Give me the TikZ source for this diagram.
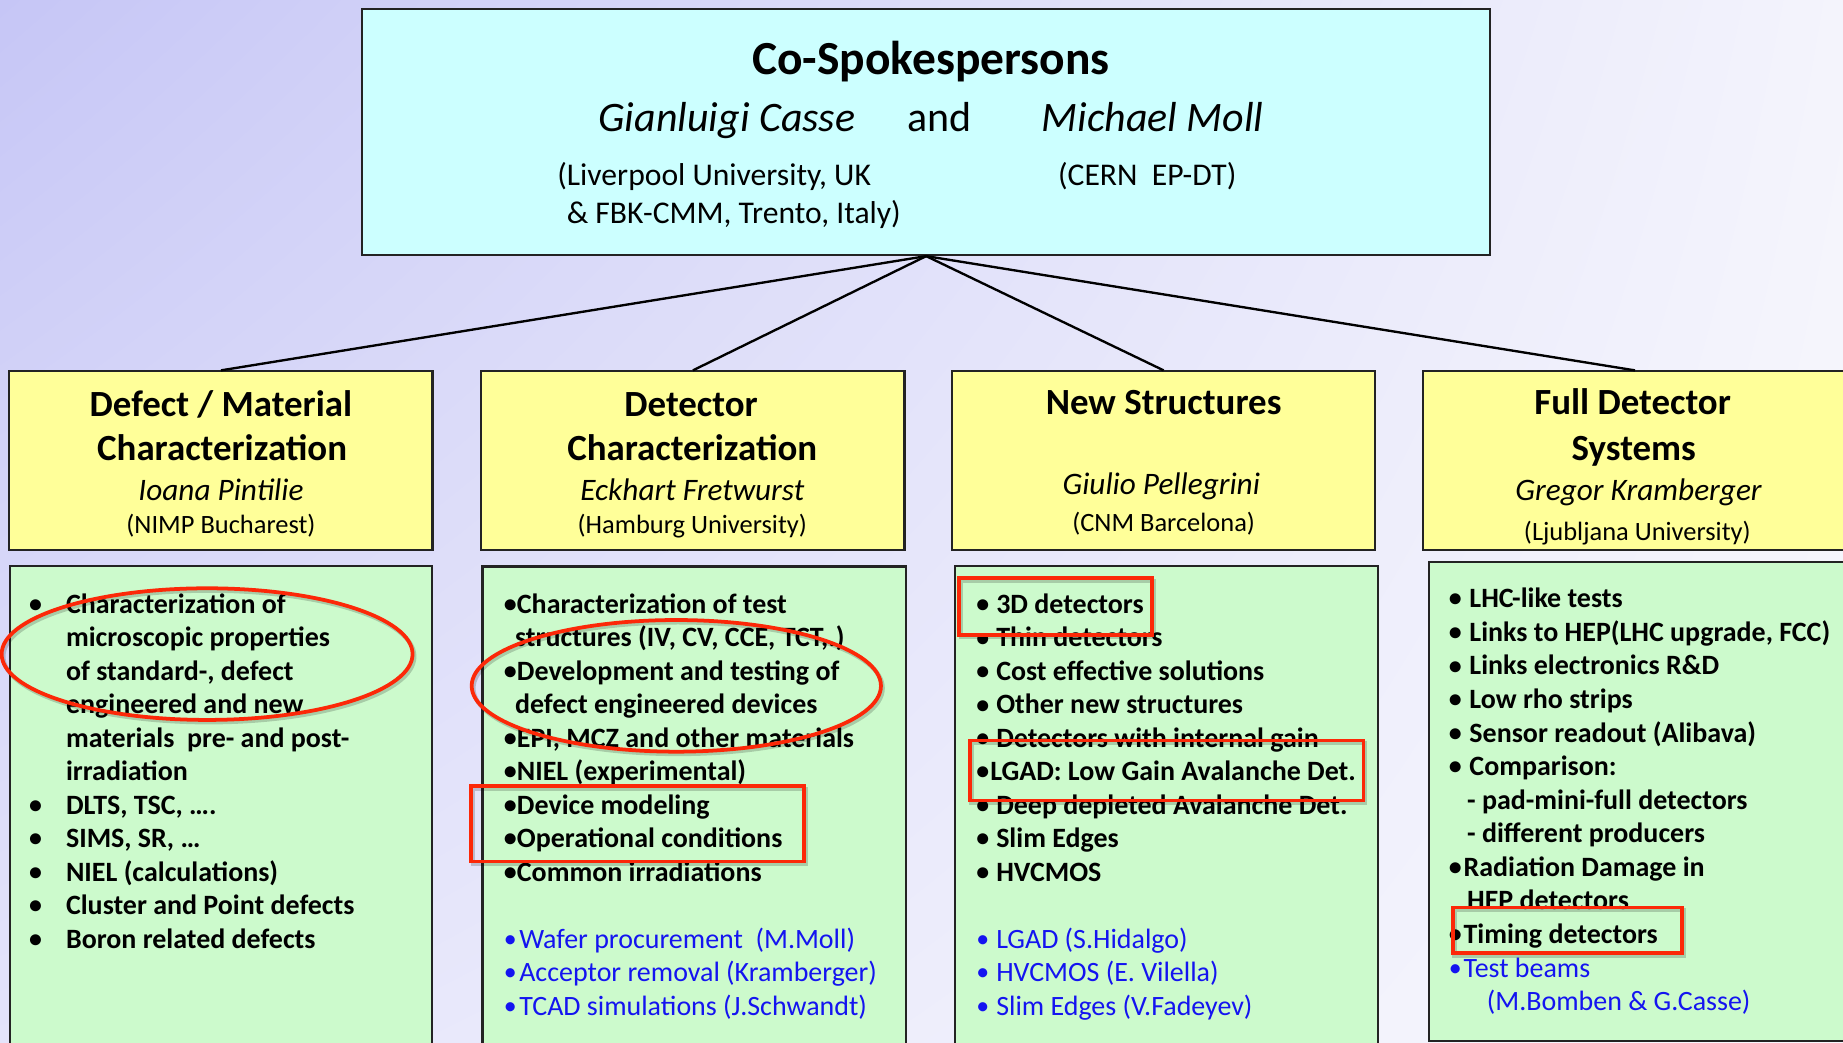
\documentclass[tikz,border=0pt]{standalone}
\usepackage{fontspec}
\usetikzlibrary{shadings}
\setmainfont{Carlito}
\definecolor{cyanfill}{RGB}{204,255,255}
\definecolor{yelfill}{RGB}{255,255,153}
\definecolor{grnfill}{RGB}{204,250,204}
\definecolor{myblue}{RGB}{20,20,240}
\definecolor{annred}{RGB}{252,40,8}
\definecolor{boxline}{RGB}{35,35,35}
\definecolor{bgTL}{RGB}{198,198,246}
\definecolor{bgTR}{RGB}{244,244,252}
\definecolor{bgBL}{RGB}{228,228,250}
\definecolor{bgBR}{RGB}{248,248,253}
\newcommand\BodyF{\fontsize{23.8}{28.5}\selectfont\bfseries}
\newcommand\BlueF{\fontsize{23.8}{28.5}\selectfont}
\newcommand\TitleF{\fontsize{40.4}{48}\selectfont\bfseries}
\newcommand\NameF{\fontsize{35.7}{42}\selectfont\itshape}
\newcommand\AffF{\fontsize{26.9}{32}\selectfont}
\newcommand\YTitleF{\fontsize{31.4}{36}\selectfont\bfseries}
\newcommand\YNameF{\fontsize{26.6}{32}\selectfont\itshape}
\newcommand\YAffF{\fontsize{22.5}{27}\selectfont}
\newcommand\Bu{\raisebox{0.6pt}{\fontsize{22}{24}\selectfont •}}
\begin{document}
\begin{tikzpicture}[x=1pt,y=-1pt,
  box/.style={draw=boxline, line width=1.8pt, inner sep=0pt, rectangle},
  conn/.style={draw=black, line width=2pt},
  tl/.style={anchor=base west, inner sep=0pt, font=\BodyF},
  bl/.style={anchor=base west, inner sep=0pt, font=\BlueF, text=myblue},
  ct/.style={anchor=base, inner sep=0pt},
  ann/.style={draw=annred, line width=3.2pt},
  annsh/.style={draw=black, opacity=0.18, line width=3.6pt, xshift=1.5pt, yshift=-2pt}]
\useasboundingbox (0,0) rectangle (1568,887);
\clip (0,0) rectangle (1568,887);
\shade[upper left=bgTL, upper right=bgTR, lower left=bgBL, lower right=bgBR] (0,0) rectangle (1568,887);

% top box
\node[box, fill=cyanfill, minimum width=960pt, minimum height=209pt] (top) at (788,112.5) {};
\node[ct, font=\TitleF] (ttl) at (792,63) {Co-Spokespersons};
\node[anchor=base west, inner sep=0pt, font=\NameF] (n1) at (509,112) {Gianluigi Casse};
\node[anchor=base west, inner sep=0pt, font=\NameF\upshape] (nand) at (772,112) {and};
\node[anchor=base west, inner sep=0pt, font=\NameF] (n2) at (886,112) {Michael Moll};
\node[anchor=base west, inner sep=0pt, font=\AffF] (a1) at (474,157.4) {(Liverpool University, UK};
\node[anchor=base west, inner sep=0pt, font=\AffF] (a2) at (900,157.4) {(CERN\ \ EP-DT)};
\node[anchor=base west, inner sep=0pt, font=\AffF] (a3) at (482,190) {\& FBK-CMM, Trento, Italy)};

% yellow boxes
\node[box, fill=yelfill, minimum width=360pt, minimum height=152pt] (y1) at (188,392) {};
\node[box, fill=yelfill, minimum width=360pt, minimum height=152pt] (y2) at (589.5,392) {};
\node[box, fill=yelfill, minimum width=360pt, minimum height=152pt] (y3) at (990,392) {};
\node[box, fill=yelfill, minimum width=360pt, minimum height=152pt] (y4) at (1391,392) {};

\draw[conn] (top.south) -- (y1.north);
\draw[conn] (top.south) -- (y2.north);
\draw[conn] (top.south) -- (y3.north);
\draw[conn] (top.south) -- (y4.north);

\node[ct, font=\YTitleF] (y1a) at (188,354.5) {Defect / Material};
\node[ct, font=\YTitleF] (y1b) at (189,392) {Characterization};
\node[ct, font=\YNameF] (y1c) at (188,426) {Ioana Pintilie};
\node[ct, font=\YAffF] (y1d) at (188,454) {(NIMP Bucharest)};

\node[ct, font=\YTitleF] (y2a) at (588,354.5) {Detector};
\node[ct, font=\YTitleF] (y2b) at (589,392) {Characterization};
\node[ct, font=\YNameF] (y2c) at (589,426) {Eckhart Fretwurst};
\node[ct, font=\YAffF] (y2d) at (589,454) {(Hamburg University)};

\node[ct, font=\YTitleF] (y3a) at (990,353) {New Structures};
\node[ct, font=\YNameF] (y3c) at (988,421) {Giulio Pellegrini};
\node[ct, font=\YAffF] (y3d) at (990,452) {(CNM Barcelona)};

\node[ct, font=\YTitleF] (y4a) at (1389,353) {Full Detector};
\node[ct, font=\YTitleF] (y4b) at (1390,391.4) {Systems};
\node[ct, font=\YNameF] (y4c) at (1394,425.4) {Gregor Kramberger};
\node[ct, font=\YAffF] (y4d) at (1393,460) {(Ljubljana University)};

% green boxes
\node[box, fill=grnfill, minimum width=359pt, minimum height=420pt] (g1) at (188,691.5) {};
\node[box, fill=grnfill, minimum width=360pt, minimum height=420pt] (g2) at (590.5,692) {};
\node[box, fill=grnfill, minimum width=360pt, minimum height=420pt] (g3) at (992.5,691.5) {};
\node[box, fill=grnfill, minimum width=366pt, minimum height=407.7pt] (g4) at (1399,681.85) {};

% box 1 text
\foreach \xx/\ii/\lbl [evaluate=\ii as \yy using 521.8+28.48*(\ii-1), count=\k] in {
  24.5/1/{\Bu}, 56/1/{Characterization of}, 56/2/{microscopic properties}, 56/3/{of standard-, defect},
  56/4/{engineered and new}, 56/5/{materials\ \ pre- and post-}, 56/6/{irradiation},
  24.5/7/{\Bu}, 56/7/{DLTS, TSC, ….}, 24.5/8/{\Bu}, 56/8/{SIMS, SR, …},
  24.5/9/{\Bu}, 56/9/{NIEL (calculations)}, 24.5/10/{\Bu}, 56/10/{Cluster and Point defects},
  24.5/11/{\Bu}, 56/11/{Boron related defects}}
  \node[tl] (ta\k) at (\xx,\yy) {\lbl};

% box 2 text
\foreach \xx/\ii/\lbl [evaluate=\ii as \yy using 521.8+28.48*(\ii-1), count=\k] in {
  428.5/1/{\Bu}, 439.6/1/{Characterization of test}, 438/2/{structures (IV, CV, CCE, TCT,.)},
  428.5/3/{\Bu}, 439.6/3/{Development and testing of}, 438/4/{defect engineered devices},
  428.5/5/{\Bu}, 439.6/5/{EPI, MCZ and other materials}, 428.5/6/{\Bu}, 439.6/6/{NIEL (experimental)},
  428.5/7/{\Bu}, 439.6/7/{Device modeling}, 428.5/8/{\Bu}, 439.6/8/{Operational conditions},
  428.5/9/{\Bu}, 439.6/9/{Common irradiations}}
  \node[tl] (tb\k) at (\xx,\yy) {\lbl};
\foreach \xx/\ii/\lbl [evaluate=\ii as \yy using 521.8+28.48*(\ii-1), count=\k] in {
  428.5/11/{\Bu}, 441.6/11/{Wafer procurement\ \ (M.Moll)},
  428.5/12/{\Bu}, 441.6/12/{Acceptor removal (Kramberger)},
  428.5/13/{\Bu}, 441.6/13/{TCAD simulations (J.Schwandt)}}
  \node[bl] (ub\k) at (\xx,\yy) {\lbl};

% box 3 text
\foreach \xx/\ii/\lbl [evaluate=\ii as \yy using 521.8+28.48*(\ii-1), count=\k] in {
  830.5/1/{\Bu}, 847.4/1/{3D detectors}, 830.5/2/{\Bu}, 847.4/2/{Thin detectors},
  830.5/3/{\Bu}, 847.4/3/{Cost effective solutions}, 830.5/4/{\Bu}, 847.4/4/{Other new structures},
  830.5/5/{\Bu}, 847.4/5/{Detectors with internal gain}, 830.5/6/{\Bu}, 842.3/6/{LGAD: Low Gain Avalanche Det.},
  830.5/7/{\Bu}, 847.4/7/{Deep depleted Avalanche Det.}, 830.5/8/{\Bu}, 847.4/8/{Slim Edges},
  830.5/9/{\Bu}, 847.4/9/{HVCMOS}}
  \node[tl] (tc\k) at (\xx,\yy) {\lbl};
\foreach \xx/\ii/\lbl [evaluate=\ii as \yy using 521.8+28.48*(\ii-1), count=\k] in {
  830.5/11/{\Bu}, 847.4/11/{LGAD (S.Hidalgo)},
  830.5/12/{\Bu}, 847.4/12/{HVCMOS (E. Vilella)},
  830.5/13/{\Bu}, 847.4/13/{Slim Edges (V.Fadeyev)}}
  \node[bl] (uc\k) at (\xx,\yy) {\lbl};

% box 4 text
\foreach \xx/\ii/\lbl [evaluate=\ii as \yy using 517+28.57*(\ii-1), count=\k] in {
  1232.5/1/{\Bu}, 1250/1/{LHC-like tests}, 1232.5/2/{\Bu}, 1250/2/{Links to HEP(LHC upgrade, FCC)},
  1232.5/3/{\Bu}, 1250/3/{Links electronics R\&D}, 1232.5/4/{\Bu}, 1250/4/{Low rho strips},
  1232.5/5/{\Bu}, 1250/5/{Sensor readout (Alibava)}, 1232.5/6/{\Bu}, 1250/6/{Comparison:},
  1248/7/{- pad-mini-full detectors}, 1248/8/{- different producers},
  1232.5/9/{\Bu}, 1245/9/{Radiation Damage in}, 1248/10/{HEP detectors},
  1232.5/11/{\Bu}, 1245/11/{Timing detectors}}
  \node[tl] (td\k) at (\xx,\yy) {\lbl};
\foreach \xx/\ii/\lbl [evaluate=\ii as \yy using 517+28.57*(\ii-1), count=\k] in {
  1232.5/12/{\Bu}, 1245/12/{Test beams}, 1264.8/13/{(M.Bomben \& G.Casse)}}
  \node[bl] (ud\k) at (\xx,\yy) {\lbl};

% red annotations
\draw[annsh] (176.2,556.5) ellipse [x radius=174.8pt, y radius=56pt];
\draw[annsh] (575.4,583.5) ellipse [x radius=174.1pt, y radius=56pt];
\draw[annsh] (401,669) rectangle (684,733);
\draw[annsh] (816,492) rectangle (980,540);
\draw[annsh] (825,630) rectangle (1160,681);
\draw[annsh] (1236,772) rectangle (1431,811);
\draw[ann] (176.2,556.5) ellipse [x radius=174.8pt, y radius=56pt];
\draw[ann] (575.4,583.5) ellipse [x radius=174.1pt, y radius=56pt];
\draw[ann] (401,669) rectangle (684,733);
\draw[ann] (816,492) rectangle (980,540);
\draw[ann] (825,630) rectangle (1160,681);
\draw[ann] (1236,772) rectangle (1431,811);
\end{tikzpicture}
\end{document}
